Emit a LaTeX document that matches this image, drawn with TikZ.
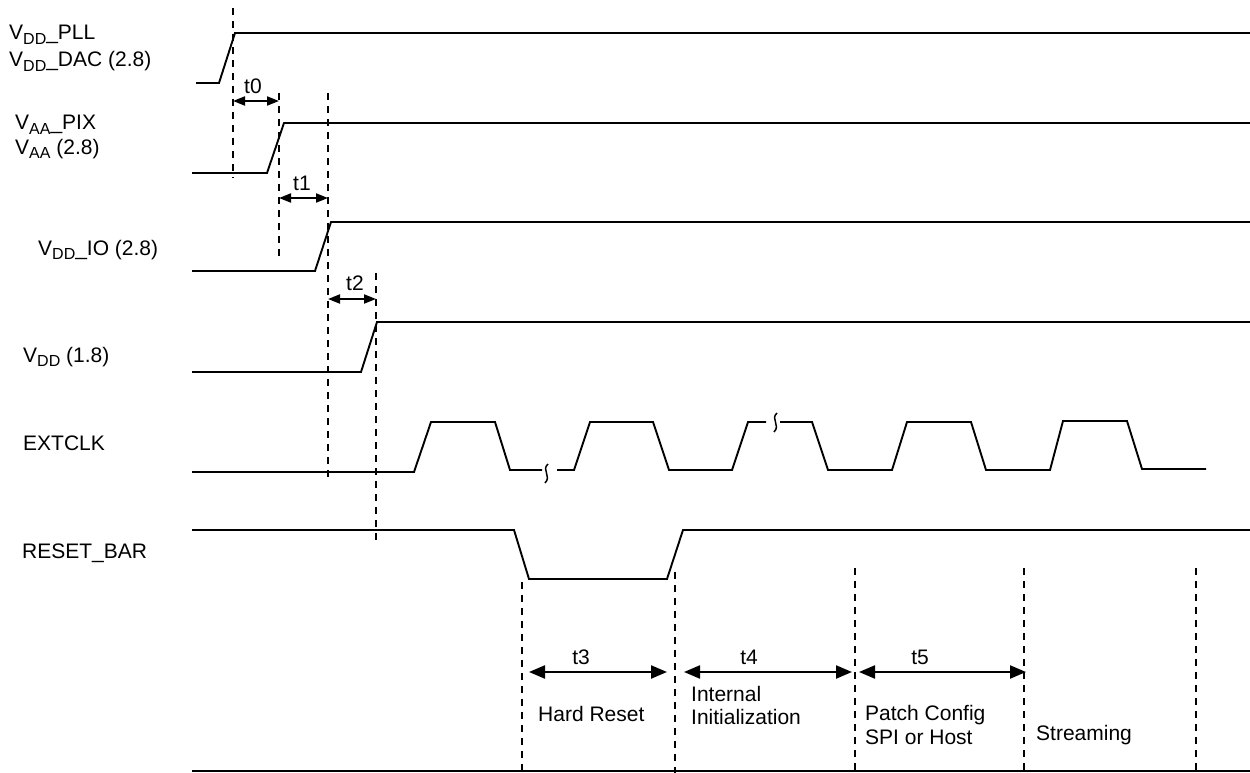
\documentclass[tikz,border=0pt]{standalone}
\usepackage{fontspec}
\setmainfont{Liberation Sans}
\usetikzlibrary{arrows.meta}
\newcommand{\vsub}[1]{\raisebox{-0.22em}{\fontsize{16}{16}\selectfont #1}}
\tikzset{
  sig/.style={line width=1.9pt,line join=miter},
  brk/.style={line width=1.5pt},
  guide/.style={line width=1.4pt,dash pattern=on 7pt off 6pt},
  gap/.style={{Triangle[length=12pt,width=9pt]}-{Triangle[length=12pt,width=9pt]},line width=2pt},
  span/.style={{Triangle[length=16pt,width=13pt]}-{Triangle[length=16pt,width=13pt]},line width=2.2pt},
  lbl/.style={anchor=base west,inner sep=0pt},
  tlbl/.style={anchor=base,inner sep=0pt},
}

\begin{document}
\begin{tikzpicture}[x=1pt,y=-1pt,font=\fontsize{21}{24}\selectfont]
  \useasboundingbox (0,0) rectangle (1250,773);
  % signal names
  \node[lbl] (pll) at (9,40) {V\vsub{DD}\_PLL};
  \node[lbl] (dac) at (9,67) {V\vsub{DD}\_DAC (2.8)};
  \node[lbl] (pix) at (15,130) {V\vsub{AA}\_PIX};
  \node[lbl] (vaa) at (15,154) {V\vsub{AA} (2.8)};
  \node[lbl] (vio) at (38,255) {V\vsub{DD}\_IO (2.8)};
  \node[lbl] (vdd) at (23,362) {V\vsub{DD} (1.8)};
  \node[lbl] (clk) at (23,450) {EXTCLK};
  \node[lbl] (rst) at (22,558) {RESET\_BAR};
  % supply ramps
  \draw[sig] (196,83) -- (219,83) -- (235,33) -- (1250,33);
  \draw[sig] (192,173) -- (267,173) -- (284,123) -- (1250,123);
  \draw[sig] (192,271) -- (315,271) -- (331,222) -- (1250,222);
  \draw[sig] (192,372) -- (361,372) -- (377,322) -- (1250,322);
  % clock, with two breaks
  \draw[sig] (192,472) -- (414,472) -- (431,422) -- (495,422) -- (510,470) -- (542,470);
  \draw[sig] (557,470) -- (574,470) -- (590,422) -- (653,422) -- (669,470)
    -- (732,470) -- (748,422) -- (766,422);
  \draw[sig] (780,422) -- (812,422) -- (828,470) -- (892,470) -- (907,422) -- (971,422)
    -- (986,470) -- (1050,470) -- (1063,421) -- (1127,421) -- (1142,469) -- (1206,469);
  \draw[brk] (548,464) .. controls (541,470) and (552,476) .. (545,483);
  \draw[brk] (777,413) .. controls (770,419) and (781,425) .. (774,432);
  % reset
  \draw[sig] (192,530) -- (514,530) -- (529,579) -- (667,579) -- (683,530) -- (1250,530);
  \draw[sig] (192,771) -- (1250,771);
  % guide lines
  \coordinate (g0t) at (233,8);    \coordinate (g0b) at (233,178);
  \coordinate (g1t) at (279,93);   \coordinate (g1b) at (279,262);
  \coordinate (g2t) at (328,93);   \coordinate (g2b) at (328,477);
  \coordinate (g3t) at (376,273);  \coordinate (g3b) at (376,544);
  \coordinate (g4t) at (522,582);  \coordinate (g4b) at (522,773);
  \coordinate (g5t) at (675,572);  \coordinate (g5b) at (675,773);
  \coordinate (g6t) at (855,568);  \coordinate (g6b) at (855,771);
  \coordinate (g7t) at (1024,568); \coordinate (g7b) at (1024,771);
  \coordinate (g8t) at (1196,568); \coordinate (g8b) at (1196,771);
  \foreach \g in {0,...,8}{\draw[guide] (g\g t) -- (g\g b);}
  % power-up gaps
  \draw[gap] (g0t |- 0,101) -- (g1t |- 0,101);
  \draw[gap] (g1t |- 0,198) -- (g2t |- 0,198);
  \draw[gap] (g2t |- 0,299) -- (g3t |- 0,299);
  \node[tlbl] (t0) at (253,94) {t0};
  \node[tlbl] (t1) at (302,190) {t1};
  \node[tlbl] (t2) at (355,290) {t2};
  % start-up phases
  \coordinate (a3) at (529,672); \coordinate (b3) at (667,672);
  \coordinate (a4) at (684,672); \coordinate (b4) at (852,672);
  \coordinate (a5) at (859,672); \coordinate (b5) at (1026,672);
  \draw[span] (a3) -- (b3);
  \draw[span] (a4) -- (b4);
  \draw[span] (a5) -- (b5);
  \node[tlbl] (t3) at (581,664) {t3};
  \node[tlbl] (t4) at (749,664) {t4};
  \node[tlbl] (t5) at (920,664) {t5};
  \node[lbl] (hard) at (538,721) {Hard Reset};
  \node[lbl] (init) at (691,701) {Internal};
  \node[lbl] (init2) at (691,724) {Initialization};
  \node[lbl] (patch) at (865,720) {Patch Config};
  \node[lbl] (patch2) at (865,744) {SPI or Host};
  \node[lbl] (strm) at (1036,740) {Streaming};
\end{tikzpicture}
\end{document}
